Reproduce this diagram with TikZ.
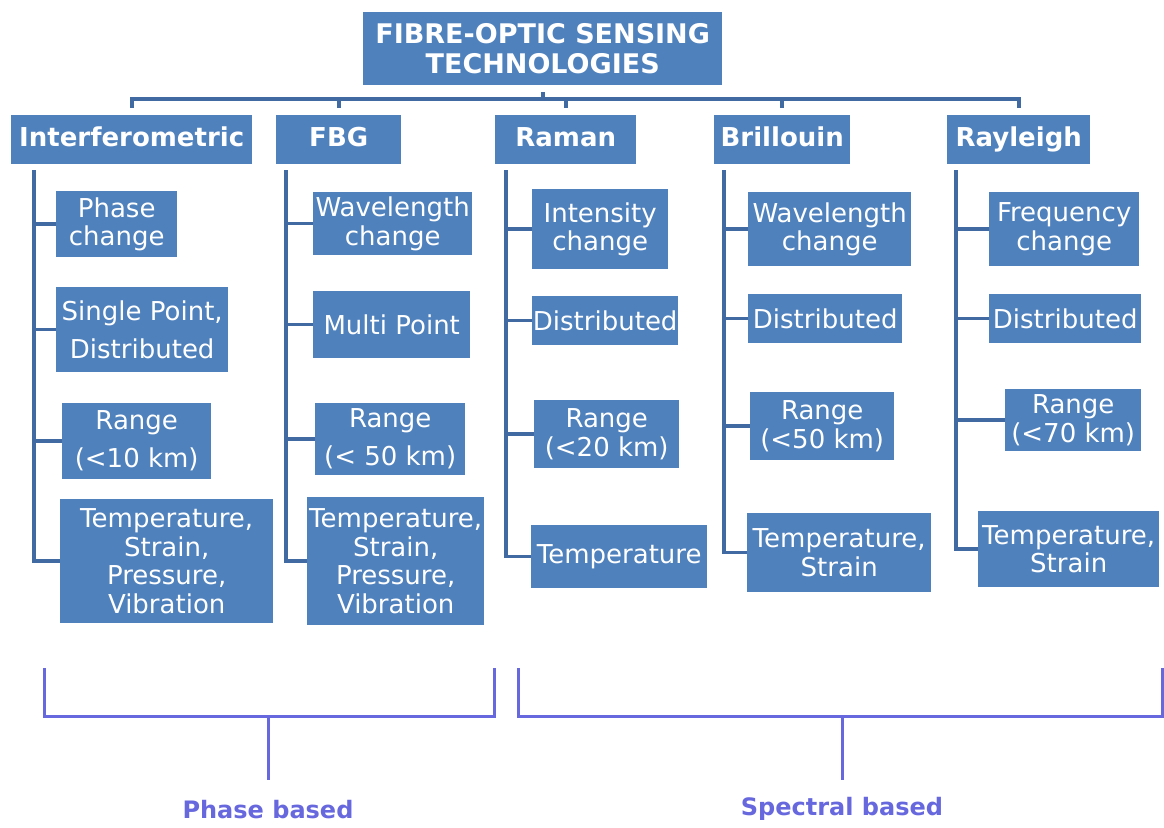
\documentclass[tikz,border=0pt]{standalone}
\usepackage{fontspec}
\setmainfont{DejaVu Sans}
\definecolor{boxblue}{RGB}{79,129,189}
\definecolor{treeblue}{RGB}{66,106,162}
\definecolor{brk}{RGB}{104,104,222}
\tikzset{
  box/.style={fill=boxblue, text=white, inner sep=0pt, anchor=north west, align=center,
    font=\fontsize{26}{28.5}\selectfont},
  head/.style={box, font=\bfseries\fontsize{26}{30}\selectfont},
  hdr/.style={head, minimum height=49pt, text height=19pt, text depth=6pt},
  tree/.style={draw=treeblue, line width=3.5pt},
  bus/.style={draw=treeblue, line width=4pt},
  brack/.style={draw=brk, line width=3pt},
  blabel/.style={text=brk, font=\bfseries\fontsize{24}{28}\selectfont, inner sep=0pt}
}
\begin{document}
\begin{tikzpicture}[x=1pt,y=-1pt]
\useasboundingbox (0,0) rectangle (1164,827);
% title
\node[head, minimum width=359pt, minimum height=73pt, font=\bfseries\fontsize{27}{30}\selectfont] (title) at (363,12) {FIBRE-OPTIC SENSING\\TECHNOLOGIES};
% headers
\node[hdr, minimum width=241pt] (int) at (11,115) {Interferometric};
\node[hdr, minimum width=125pt] (fbg) at (276,115) {FBG};
\node[hdr, minimum width=141pt] (ram) at (495,115) {Raman};
\node[hdr, minimum width=136pt] (bri) at (714,115) {Brillouin};
\node[hdr, minimum width=143pt] (ray) at (947,115) {Rayleigh};
% interferometric
\node[box, minimum width=121pt, minimum height=66pt] (i1) at (56,191) {Phase\\change};
\node[box, minimum width=172pt, minimum height=85pt, font=\fontsize{26}{38}\selectfont] (i2) at (56,287) {Single Point,\\Distributed};
\node[box, minimum width=149pt, minimum height=76pt, font=\fontsize{26}{38}\selectfont] (i3) at (62,403) {Range\\(<10 km)};
\node[box, minimum width=213pt, minimum height=124pt] (i4) at (60,499) {Temperature,\\Strain,\\Pressure,\\Vibration};
% FBG
\node[box, minimum width=159pt, minimum height=63pt] (f1) at (313,192) {Wavelength\\change};
\node[box, minimum width=157pt, minimum height=67pt] (f2) at (313,291) {Multi Point};
\node[box, minimum width=150pt, minimum height=72pt, font=\fontsize{26}{38}\selectfont] (f3) at (315,403) {Range\\(< 50 km)};
\node[box, minimum width=177pt, minimum height=128pt] (f4) at (307,497) {Temperature,\\Strain,\\Pressure,\\Vibration};
% Raman
\node[box, minimum width=136pt, minimum height=80pt] (r1) at (532,189) {Intensity\\change};
\node[box, minimum width=146pt, minimum height=49pt] (r2) at (532,296) {Distributed};
\node[box, minimum width=145pt, minimum height=68pt] (r3) at (534,400) {Range\\(<20 km)};
\node[box, minimum width=176pt, minimum height=63pt] (r4) at (531,525) {Temperature};
% Brillouin
\node[box, minimum width=163pt, minimum height=74pt] (b1) at (748,192) {Wavelength\\change};
\node[box, minimum width=154pt, minimum height=49pt] (b2) at (748,294) {Distributed};
\node[box, minimum width=144pt, minimum height=68pt] (b3) at (750,392) {Range\\(<50 km)};
\node[box, minimum width=184pt, minimum height=79pt] (b4) at (747,513) {Temperature,\\Strain};
% Rayleigh
\node[box, minimum width=150pt, minimum height=74pt] (y1) at (989,192) {Frequency\\change};
\node[box, minimum width=152pt, minimum height=49pt] (y2) at (989,294) {Distributed};
\node[box, minimum width=136pt, minimum height=62pt] (y3) at (1005,389) {Range\\(<70 km)};
\node[box, minimum width=181pt, minimum height=76pt] (y4) at (978,511) {Temperature,\\Strain};
% bus
\coordinate (busy) at (0,99);
\draw[bus, shorten <=7pt] (title.south) -- (title.south |- busy);
\draw[bus, line cap=rect] (int.north |- busy) -- (ray.north |- busy);
\foreach \h in {int,fbg,ram,bri,ray}{
  \draw[bus, shorten >=7pt] (\h.north |- busy) -- (\h.north);
}
% trunks
\coordinate (intT) at (34,170);
\coordinate (fbgT) at (286,170);
\coordinate (ramT) at (506,170);
\coordinate (briT) at (724,170);
\coordinate (rayT) at (956,170);
\draw[tree] (intT) |- (i4.west);
\foreach \c in {i1,i2,i3} \draw[tree] (intT |- \c.west) -- (\c.west);
\draw[tree] (fbgT) |- (f4.west);
\foreach \c in {f1,f2,f3} \draw[tree] (fbgT |- \c.west) -- (\c.west);
\draw[tree] (ramT) |- (r4.west);
\foreach \c in {r1,r2,r3} \draw[tree] (ramT |- \c.west) -- (\c.west);
\draw[tree] (briT) |- (b4.west);
\foreach \c in {b1,b2,b3} \draw[tree] (briT |- \c.west) -- (\c.west);
\draw[tree] (rayT) |- (y4.west);
\foreach \c in {y1,y2,y3} \draw[tree] (rayT |- \c.west) -- (\c.west);
% brackets
\node[blabel] (pl) at (268,810) {Phase based};
\node[blabel] (sl) at (842,809) {Spectral based};
\coordinate (pa) at (44,668);
\coordinate (pb) at (494,668);
\coordinate (pm) at (268,716);
\coordinate (sa) at (518,668);
\coordinate (sb) at (1162,668);
\coordinate (sm) at (842,716);
\coordinate (stemy) at (0,780);
\draw[brack] (pa) |- (pm) -| (pb);
\draw[brack] (pm) -- (pm |- stemy);
\draw[brack] (sa) |- (sm) -| (sb);
\draw[brack] (sm) -- (sm |- stemy);
\end{tikzpicture}
\end{document}
